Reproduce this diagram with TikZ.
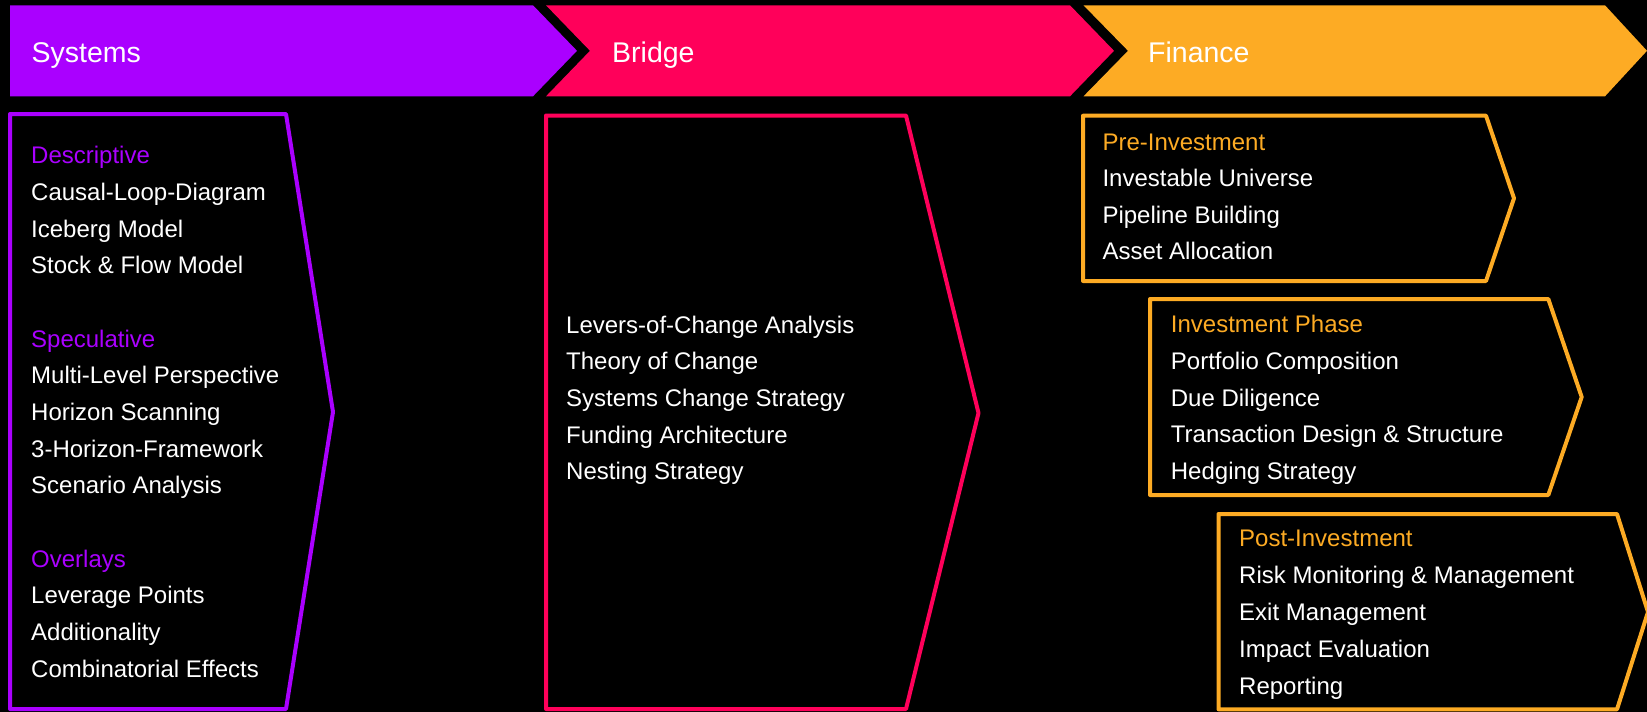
\documentclass[tikz,border=0pt]{standalone}
\usepackage{fontspec}
\setmainfont{Liberation Sans}
\definecolor{sysc}{HTML}{AA00FF}
\definecolor{brc}{HTML}{FF005A}
\definecolor{finc}{HTML}{FDAB24}
\tikzset{
  head/.style={anchor=base west, inner sep=0pt, text=white, font=\fontsize{28.5}{34}\selectfont},
  body/.style={anchor=base west, inner sep=0pt, text=white, font=\fontsize{24}{#1}\selectfont},
  body/.default=36.67,
  frame/.style={line width=4pt, line join=round},
}
\begin{document}
\begin{tikzpicture}[x=1pt,y=-1pt]
\fill[black] (0,0) rectangle (1647,712);
\useasboundingbox (0,0) rectangle (1647,712);

% header chevrons
\fill[sysc] (10,5.3) -- (533,5.3) -- (577,50.8) -- (533,96.3) -- (10,96.3) -- cycle;
\fill[brc] (546,5.3) -- (1070,5.3) -- (1114,50.8) -- (1070,96.3) -- (546,96.3) -- (590,50.8) -- cycle;
\fill[finc] (1083.5,5.3) -- (1605,5.3) -- (1647,50.8) -- (1605,96.3) -- (1083.5,96.3) -- (1128,50.8) -- cycle;
\node[head] (hsys) at (31.5,62.2) {Systems};
\node[head] (hbr) at (612,62.2) {Bridge};
\node[head] (hfin) at (1148,62.2) {Finance};

% frames
\draw[frame, sysc] (10,114) -- (286,114) -- (333,412) -- (286,709) -- (10,709) -- cycle;
\draw[frame, brc] (546,115.5) -- (906,115.5) -- (978.5,413) -- (906,709) -- (546,709) -- cycle;
\draw[frame, finc] (1083,115.7) -- (1486,115.7) -- (1514,198.3) -- (1486,281) -- (1083,281) -- cycle;
\draw[frame, finc] (1150,299) -- (1548.3,299) -- (1581.7,397) -- (1548.3,495) -- (1150,495) -- cycle;
\draw[frame, finc] (1218.5,514) -- (1617,514) -- (1648,612) -- (1617,709.3) -- (1218.5,709.3) -- cycle;

% texts
\node[body=36.67] (tsys) at (31,163.7) {\begin{tabular}[t]{@{}l@{}}
\textcolor{sysc}{Descriptive}\\
Causal-Loop-Diagram\\
Iceberg Model\\
Stock \& Flow Model\\
\\
\textcolor{sysc}{Speculative}\\
Multi-Level Perspective\\
Horizon Scanning\\
3-Horizon-Framework\\
Scenario Analysis\\
\\
\textcolor{sysc}{Overlays}\\
Leverage Points\\
Additionality\\
Combinatorial Effects
\end{tabular}};

\node[body=36.6] (tbr) at (566,333.2) {\begin{tabular}[t]{@{}l@{}}
Levers-of-Change Analysis\\
Theory of Change\\
Systems Change Strategy\\
Funding Architecture\\
Nesting Strategy
\end{tabular}};

\node[body=36.5] (tpre) at (1102.3,150) {\begin{tabular}[t]{@{}l@{}}
\textcolor{finc}{Pre-Investment}\\
Investable Universe\\
Pipeline Building\\
Asset Allocation
\end{tabular}};

\node[body=36.67] (tinv) at (1170.7,332.7) {\begin{tabular}[t]{@{}l@{}}
\textcolor{finc}{Investment Phase}\\
Portfolio Composition\\
Due Diligence\\
Transaction Design \& Structure\\
Hedging Strategy
\end{tabular}};

\node[body=36.9] (tpost) at (1239,546.7) {\begin{tabular}[t]{@{}l@{}}
\textcolor{finc}{Post-Investment}\\
Risk Monitoring \& Management\\
Exit Management\\
Impact Evaluation\\
Reporting
\end{tabular}};
\end{tikzpicture}
\end{document}
